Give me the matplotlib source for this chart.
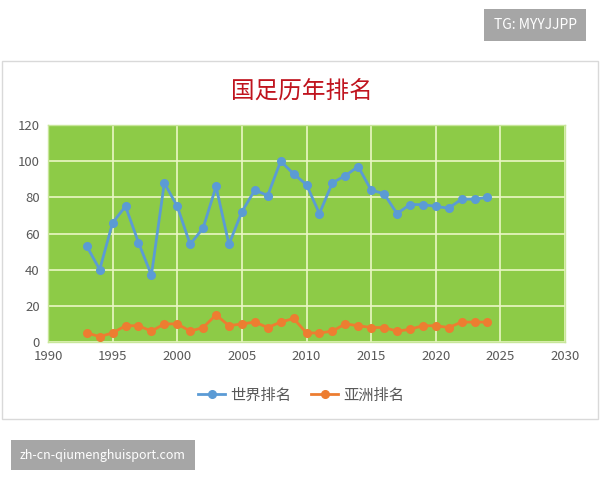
import numpy as np
import matplotlib
matplotlib.use('Agg')
import matplotlib.pyplot as plt
from matplotlib.patches import Rectangle

plt.rcParams['font.family'] = ['Noto Sans CJK SC', 'DejaVu Sans']

# Datos
anios = list(range(1993, 2025))
ranking_mundial = [53, 40, 66, 75, 55, 37, 88, 75, 54, 63, 86, 54, 72, 84, 81, 100,
                   93, 87, 71, 88, 92, 97, 84, 82, 71, 76, 76, 75, 74, 79, 79, 80]
ranking_asia = [5, 3, 5, 9, 9, 6, 10, 10, 6, 8, 15, 9, 10, 11, 8, 11,
                13, 5, 5, 6, 10, 9, 8, 8, 6, 7, 9, 9, 8, 11, 11, 11]
titulo = '国足历年排名'
etiquetas = ['世界排名', '亚洲排名']

fig = plt.figure(figsize=(6, 4.8), dpi=100)

# Marco del gráfico
fig.patches.append(Rectangle((0.003, 1 - 419 / 480), 0.993, (419 - 61) / 480,
                             transform=fig.transFigure, fill=False,
                             edgecolor='#d9d9d9', linewidth=1.0))

ax = fig.add_axes([48 / 600, 1 - 342 / 480, (565 - 48) / 600, (342 - 125) / 480])
ax.set_facecolor('#8dcb47')
ax.plot(anios, ranking_mundial, color='#5b9bd5', linewidth=2.0, marker='o',
        markersize=5.5, label=etiquetas[0], zorder=3)
ax.plot(anios, ranking_asia, color='#ed7d31', linewidth=2.0, marker='o',
        markersize=5.5, label=etiquetas[1], zorder=3)

ax.set_xlim(1990, 2030)
ax.set_ylim(0, 120)
ax.set_xticks(range(1990, 2031, 5))
ax.set_yticks(range(0, 121, 20))
ax.grid(True, color='#eaf7c4', linewidth=1.2)
ax.set_axisbelow(True)
for s in ax.spines.values():
    s.set_color('#c8e69a')
    s.set_linewidth(1.0)
ax.tick_params(length=0, labelsize=9.5, labelcolor='#595959', pad=6)

fig.text(302 / 600, 1 - 91 / 480, titulo, ha='center', va='center',
         fontsize=17, color='#c0141e')

fig.legend(loc='center', bbox_to_anchor=(301 / 600, 1 - 395 / 480), ncol=2,
           frameon=False, fontsize=11, labelcolor='#595959', handlelength=1.8,
           columnspacing=1.3, handletextpad=0.3)

# Marcas de agua
fig.text(535 / 600, 1 - 25 / 480, 'TG: MYYJJPP', ha='center', va='center',
         fontsize=10, color='white',
         bbox=dict(boxstyle='square,pad=0.65', facecolor='#a6a6a6', edgecolor='none'))
fig.text(103 / 600, 1 - 455 / 480, 'zh-cn-qiumenghuisport.com', ha='center', va='center',
         fontsize=9, color='white',
         bbox=dict(boxstyle='square,pad=0.7', facecolor='#a6a6a6', edgecolor='none'))

fig.savefig('out.png', dpi=100)
